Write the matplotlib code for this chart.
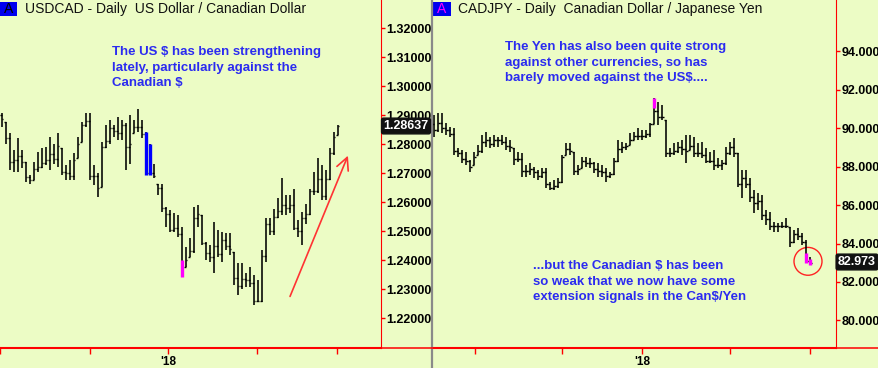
import matplotlib.pyplot as plt
import numpy as np
from matplotlib.patches import Rectangle, Ellipse
from matplotlib.lines import Line2D

plt.rcParams['font.family'] = ['Liberation Sans', 'DejaVu Sans']

BG = '#ECFCC5'
TXT = '#2b2bf0'

# ---- USDCAD daily bars (Nov 2017 - Mar 2018) ----
cad_high = [1.2908, 1.2877, 1.2837, 1.2779, 1.2820, 1.2779, 1.2739, 1.2693, 1.2739, 1.2774,
            1.2785, 1.2791, 1.2825, 1.2802, 1.2837, 1.2785, 1.2728, 1.2745, 1.2768, 1.2825,
            1.2877, 1.2906, 1.2906, 1.2728, 1.2699, 1.2808, 1.2866, 1.2883, 1.2866, 1.2894,
            1.2883, 1.2872, 1.2900, 1.2883, 1.2920, 1.2883, 1.2843, 1.2802, 1.2733, 1.2664,
            1.2664, 1.2584, 1.2572, 1.2561, 1.2555, 1.2515, 1.2446, 1.2475, 1.2584, 1.2590,
            1.2555, 1.2463, 1.2452, 1.2532, 1.2503, 1.2498, 1.2492, 1.2492, 1.2429, 1.2389,
            1.2389, 1.2354, 1.2377, 1.2348, 1.2331, 1.2434, 1.2544, 1.2544, 1.2578, 1.2613,
            1.2682, 1.2624, 1.2624, 1.2647, 1.2538, 1.2567, 1.2595, 1.2647, 1.2705, 1.2751,
            1.2728, 1.2710, 1.2785, 1.2843, 1.2866]
cad_low = [1.2860, 1.2802, 1.2710, 1.2705, 1.2705, 1.2716, 1.2670, 1.2664, 1.2676, 1.2705,
           1.2716, 1.2728, 1.2710, 1.2733, 1.2722, 1.2693, 1.2676, 1.2676, 1.2676, 1.2751,
           1.2808, 1.2860, 1.2676, 1.2659, 1.2618, 1.2653, 1.2785, 1.2802, 1.2826, 1.2814,
           1.2814, 1.2710, 1.2733, 1.2837, 1.2843, 1.2820, 1.2693, 1.2693, 1.2682, 1.2624,
           1.2567, 1.2515, 1.2498, 1.2498, 1.2480, 1.2343, 1.2377, 1.2411, 1.2423, 1.2515,
           1.2452, 1.2400, 1.2394, 1.2354, 1.2411, 1.2394, 1.2434, 1.2417, 1.2314, 1.2279,
           1.2302, 1.2308, 1.2308, 1.2245, 1.2256, 1.2256, 1.2394, 1.2486, 1.2486, 1.2544,
           1.2555, 1.2555, 1.2561, 1.2503, 1.2480, 1.2452, 1.2526, 1.2555, 1.2624, 1.2630,
           1.2607, 1.2607, 1.2676, 1.2762, 1.2831]
cad_open = [1.2900, 1.2877, 1.2820, 1.2740, 1.2745, 1.2760, 1.2739, 1.2685, 1.2676, 1.2715,
            1.2720, 1.2735, 1.2745, 1.2765, 1.2750, 1.2785, 1.2705, 1.2700, 1.2690, 1.2751,
            1.2808, 1.2865, 1.2880, 1.2690, 1.2690, 1.2653, 1.2790, 1.2810, 1.2855, 1.2845,
            1.2840, 1.2865, 1.2790, 1.2837, 1.2860, 1.2860, 1.2835, 1.2700, 1.2700, 1.2664,
            1.2650, 1.2580, 1.2560, 1.2505, 1.2510, 1.2490, 1.2377, 1.2411, 1.2430, 1.2545,
            1.2555, 1.2460, 1.2425, 1.2410, 1.2450, 1.2420, 1.2470, 1.2450, 1.2429, 1.2340,
            1.2310, 1.2335, 1.2330, 1.2320, 1.2260, 1.2260, 1.2415, 1.2525, 1.2500, 1.2550,
            1.2570, 1.2590, 1.2580, 1.2590, 1.2510, 1.2500, 1.2545, 1.2560, 1.2640, 1.2640,
            1.2680, 1.2620, 1.2680, 1.2770, 1.2831]
cad_close = [1.2885, 1.2820, 1.2740, 1.2745, 1.2760, 1.2740, 1.2685, 1.2675, 1.2715, 1.2720,
             1.2735, 1.2745, 1.2765, 1.2750, 1.2795, 1.2705, 1.2700, 1.2690, 1.2745, 1.2800,
             1.2865, 1.2880, 1.2690, 1.2690, 1.2650, 1.2790, 1.2810, 1.2855, 1.2845, 1.2840,
             1.2865, 1.2790, 1.2800, 1.2860, 1.2860, 1.2835, 1.2700, 1.2700, 1.2690, 1.2650,
             1.2580, 1.2560, 1.2505, 1.2510, 1.2490, 1.2360, 1.2400, 1.2430, 1.2545, 1.2560,
             1.2460, 1.2425, 1.2410, 1.2450, 1.2420, 1.2470, 1.2450, 1.2440, 1.2340, 1.2310,
             1.2335, 1.2330, 1.2320, 1.2260, 1.2260, 1.2415, 1.2525, 1.2500, 1.2550, 1.2570,
             1.2590, 1.2580, 1.2590, 1.2510, 1.2500, 1.2545, 1.2560, 1.2640, 1.2640, 1.2680,
             1.2620, 1.2680, 1.2770, 1.2825, 1.28637]
# highlighted (signal) bars: index, top, bottom, colour
cad_marks = [(36, 1.2843, 1.2693, '#0000ff'), (37, 1.2802, 1.2693, '#0000ff'),
             (45, 1.2400, 1.2343, '#ff00ff')]
cad_ticks = [-0.4, 22.1, 41.6, 63.8, 83.8]

# ---- CADJPY daily bars ----
jpy_high = [90.69, 90.78, 90.78, 90.26, 90.09, 90.00, 88.96, 88.87, 88.78, 88.35,
            88.78, 89.13, 89.65, 89.83, 89.57, 89.65, 89.57, 89.65, 89.57, 89.39,
            88.96, 88.78, 88.70, 88.09, 88.18, 88.00, 87.83, 87.92, 87.92, 87.22,
            87.31, 87.40, 88.61, 89.22, 89.22, 88.78, 88.09, 88.52, 88.52, 88.44,
            88.26, 88.18, 88.09, 87.92, 87.74, 88.44, 89.39, 89.31, 89.22, 89.74,
            89.83, 90.00, 89.91, 89.91, 90.26, 91.60, 91.39, 91.22, 90.43, 88.96,
            89.22, 89.31, 89.39, 89.65, 89.65, 89.57, 89.22, 89.31, 88.96, 88.78,
            88.87, 88.44, 88.35, 89.05, 89.31, 89.48, 88.70, 87.83, 87.83, 87.40,
            86.79, 86.61, 86.53, 85.74, 85.66, 85.14, 85.05, 85.14, 85.31, 84.88,
            84.70, 84.79, 84.53, 84.18, 83.32]
jpy_low = [89.57, 89.83, 89.74, 89.65, 89.57, 88.61, 88.52, 88.18, 88.09, 87.74,
           88.09, 88.61, 88.70, 89.05, 88.96, 89.05, 89.05, 89.13, 88.87, 88.78,
           88.09, 88.26, 87.48, 87.48, 87.57, 87.40, 87.31, 87.40, 86.88, 86.79,
           86.79, 86.88, 87.14, 88.61, 88.61, 87.57, 87.57, 87.92, 88.00, 87.92,
           87.66, 87.48, 87.48, 87.22, 87.40, 87.57, 88.26, 88.70, 88.87, 89.13,
           89.39, 89.39, 89.39, 89.48, 89.57, 90.20, 90.17, 90.43, 88.52, 88.52,
           88.61, 88.70, 88.61, 88.18, 88.87, 88.52, 88.52, 88.44, 88.18, 88.18,
           87.83, 87.92, 87.83, 88.09, 88.61, 88.52, 86.96, 86.35, 86.88, 86.18,
           85.57, 85.74, 85.22, 84.96, 84.70, 84.62, 84.62, 84.79, 84.79, 83.84,
           84.01, 84.18, 83.92, 82.97, 82.88]
jpy_open = [90.20, 89.90, 90.30, 90.00, 89.90, 89.70, 88.80, 88.70, 88.40, 88.30,
            88.09, 88.61, 88.80, 89.30, 89.40, 89.20, 89.40, 89.40, 89.30, 89.10,
            88.96, 88.40, 88.40, 87.80, 87.80, 87.90, 87.70, 87.50, 87.70, 87.10,
            86.90, 87.00, 87.20, 88.61, 88.90, 88.78, 87.80, 87.92, 88.30, 88.20,
            88.20, 87.90, 87.80, 87.70, 87.50, 87.60, 88.30, 88.90, 89.00, 89.13,
            89.40, 89.60, 89.60, 89.60, 89.70, 90.20, 90.90, 90.60, 90.43, 88.70,
            88.70, 88.80, 89.00, 88.90, 88.87, 89.10, 88.70, 88.70, 88.60, 88.30,
            88.30, 88.10, 88.10, 88.20, 88.70, 89.00, 88.70, 87.10, 87.40, 87.10,
            86.40, 86.10, 86.20, 85.50, 85.30, 84.90, 84.90, 84.90, 84.90, 84.88,
            84.10, 84.50, 84.40, 84.10, 83.10]
jpy_close = [89.90, 90.30, 90.00, 89.90, 89.70, 88.80, 88.70, 88.40, 88.30, 88.00,
             88.50, 88.80, 89.30, 89.40, 89.20, 89.40, 89.40, 89.30, 89.10, 89.00,
             88.40, 88.40, 87.80, 87.80, 87.90, 87.70, 87.50, 87.70, 87.10, 86.90,
             87.00, 87.20, 88.50, 88.90, 88.80, 87.80, 87.90, 88.30, 88.20, 88.20,
             87.90, 87.80, 87.70, 87.50, 87.60, 88.30, 88.90, 89.00, 89.10, 89.40,
             89.60, 89.60, 89.60, 89.70, 90.20, 90.90, 90.60, 90.60, 88.70, 88.70,
             88.80, 89.00, 88.90, 88.80, 89.10, 88.70, 88.70, 88.60, 88.30, 88.30,
             88.10, 88.10, 88.20, 88.70, 89.00, 88.70, 87.10, 87.40, 87.10, 86.40,
             86.10, 86.20, 85.50, 85.30, 84.90, 84.90, 84.90, 84.90, 84.90, 84.10,
             84.50, 84.40, 84.10, 83.10, 82.973]
jpy_marks = [(55, 91.60, 91.04, '#ff00ff'), (93, 83.53, 82.97, '#ff00ff'),
             (94, 83.18, 82.88, '#ff00ff')]
jpy_ticks = [10.25, 32.0, 52.0, 74.0, 94.0]

W, H = 879, 368
fig = plt.figure(figsize=(W / 100, H / 100), dpi=100)
fig.patch.set_facecolor(BG)


def fx(px):
    return px / W


def fy(py):
    return 1 - py / H


def draw_bars(ax, hi, lo, op, cl, marks):
    x = np.arange(len(hi))
    ax.vlines(x, lo, hi, color='k', lw=1.15)
    ax.hlines(op, x - 0.4, x, color='k', lw=1.0)
    ax.hlines(cl, x, x + 0.4, color='k', lw=1.0)
    for i, top, bot, c in marks:
        ax.vlines(i, bot, top, color=c, lw=2.4, zorder=3)


def style(ax, xlim, ylim, yticks, fmt, xt):
    ax.set_facecolor(BG)
    ax.set_xlim(*xlim)
    ax.set_ylim(*ylim)
    ax.yaxis.tick_right()
    ax.set_yticks(yticks)
    ax.set_yticklabels([fmt % v for v in yticks])
    ax.tick_params(axis='y', colors='red', labelcolor='black', length=3, width=1,
                   pad=1, labelsize=9)
    for lab in ax.get_yticklabels():
        lab.set_fontweight('bold')
    ax.set_xticks(xt)
    ax.set_xticklabels(['', '', "'18", '', ''])
    ax.tick_params(axis='x', colors='red', labelcolor='black', length=4, width=1,
                   pad=1.5, labelsize=8.5)
    for lab in ax.get_xticklabels():
        lab.set_fontweight('bold')
    ax.spines['top'].set_visible(False)
    ax.spines['left'].set_visible(False)
    ax.spines['right'].set_color('red')
    ax.spines['bottom'].set_color('red')
    ax.spines['bottom'].set_linewidth(1.5)


ax1 = fig.add_axes([0, fy(348), fx(381), 348 / H])
ax2 = fig.add_axes([fx(432), fy(348), fx(836 - 432), 348 / H])

draw_bars(ax1, cad_high, cad_low, cad_open, cad_close, cad_marks)
draw_bars(ax2, jpy_high, jpy_low, jpy_open, jpy_close, jpy_marks)

style(ax1, (-0.42, 94.8), (1.2097, 1.3297), [1.22 + 0.01 * k for k in range(11)],
      '%.5f', cad_ticks)
style(ax2, (-0.5, 100.5), (78.56, 96.68), [80, 82, 84, 86, 88, 90, 92, 94],
      '%.3f', jpy_ticks)

# arrow on USDCAD
ax1.annotate('', xy=(86.8, 1.2769), xytext=(71.8, 1.2266),
             arrowprops=dict(arrowstyle='->', color='#ff3333', lw=1.2,
                             mutation_scale=22))
# circle on CADJPY
ax2.add_patch(Ellipse((93.5, jpy_close[-1] + 0.1), 7.0, 1.45, fill=False,
                      ec='#ff2222', lw=1.0))

# last price labels
fig.text(fx(406), fy(126), '%.5f' % cad_close[-1], color='white', fontsize=9,
         fontweight='bold', ha='center', va='center', zorder=10,
         bbox=dict(boxstyle='round,pad=0.15', fc='#111111', ec='#111111'))
fig.text(fx(857), fy(262), '%.3f' % jpy_close[-1], color='white', fontsize=9,
         fontweight='bold', ha='center', va='center', zorder=10,
         bbox=dict(boxstyle='round,pad=0.15', fc='#111111', ec='#111111'))

# separator and bottom axis line
fig.add_artist(Line2D([fx(432), fx(432)], [0, 1], color='#8a8a8a', lw=1.6))
fig.add_artist(Line2D([0, 1], [fy(348), fy(348)], color='red', lw=1.1))

# titles
fig.add_artist(Rectangle((0, fy(16)), fx(17), 14 / H, fc='#0000ee', ec='none'))
fig.text(fx(8.5), fy(9), 'A', color='black', fontsize=10, ha='center', va='center')
fig.text(fx(25), fy(9), 'USDCAD - Daily  US Dollar / Canadian Dollar', color='#111111',
         fontsize=10, ha='left', va='center')
fig.add_artist(Rectangle((fx(433), fy(16)), fx(18), 14 / H, fc='#0000ee', ec='none'))
fig.text(fx(442), fy(9), 'A', color='#ff00ff', fontsize=10, ha='center', va='center')
fig.text(fx(458), fy(9), 'CADJPY - Daily  Canadian Dollar / Japanese Yen', color='#111111',
         fontsize=10, ha='left', va='center')

# notes
note_kw = dict(color=TXT, fontsize=9.5, fontweight='bold', ha='left', va='top',
               linespacing=1.4)
fig.text(fx(112), fy(46), 'The US $ has been strengthening\nlately, particularly against the\nCanadian $',
         **note_kw)
fig.text(fx(505), fy(41), 'The Yen has also been quite strong\nagainst other currencies, so has\nbarely moved against the US$....',
         **note_kw)
fig.text(fx(533), fy(260), '...but the Canadian $ has been\nso weak that we now have some\nextension signals in the Can$/Yen',
         **note_kw)

fig.savefig('out.png', dpi=100, facecolor=BG)
